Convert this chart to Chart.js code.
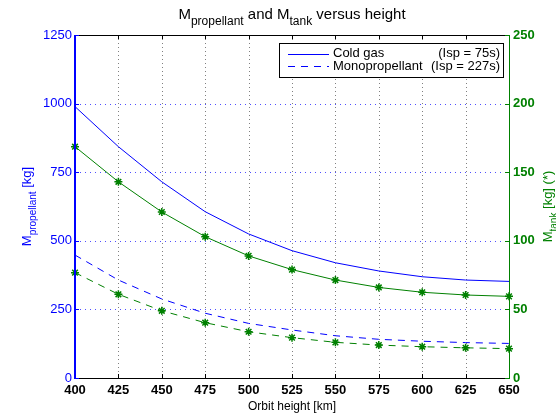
<!DOCTYPE html>
<html>
<head>
<meta charset="utf-8">
<script src="https://cdn.jsdelivr.net/npm/chart.js@4/dist/chart.umd.min.js"></script>
<style>
  html, body { margin: 0; padding: 0; background: #fff; }
  #wrap { width: 556px; height: 417px; }
</style>
</head>
<body>
<div id="wrap"><canvas id="massChart" width="556" height="417"></canvas></div>
<script>
// orbit heights [km]
var heights = ['400', '425', '450', '475', '500', '525', '550', '575', '600', '625', '650'];
// propellant mass [kg], left axis
var coldGasProp = [989, 843, 715, 606, 525, 464, 420, 390, 369, 357, 352];
var monoProp = [448, 357, 288, 236, 199, 175, 154, 141, 134, 129, 126];
// tank mass [kg], right axis
var coldGasTank = [168.6, 143, 121, 103, 89, 79, 71.4, 66, 62.5, 60.5, 59.5];
var monoTank = [76.8, 61, 49, 40.3, 33.7, 29.4, 26, 24, 22.8, 22, 21.4];

var legendNames = ['Cold gas', 'Monopropellant'];
var legendIsp = ['(Isp = 75s)', '(Isp = 227s)'];

var BLUE = '#0000ff';
var GREEN = '#008000';
var FONT = '"Liberation Sans", Arial, sans-serif';

// draw text with subscript pieces, returns width
function drawParts(ctx, parts, x, y, size, measureOnly) {
	var w = 0;
	for (var i = 0; i < parts.length; i++) {
		var p = parts[i];
		var fs = p.sub ? Math.round(size * 0.8) : size;
		ctx.font = fs + 'px ' + FONT;
		if (!measureOnly) ctx.fillText(p.t, x + w, p.sub ? y + size * 0.4 : y);
		w += ctx.measureText(p.t).width;
	}
	return w;
}

var decorPlugin = {
	id: 'decor',
	beforeDatasetsDraw: function(chart) {
		var ctx = chart.ctx, a = chart.chartArea;
		ctx.save();
		// horizontal dotted grid (left axis ticks)
		var yl = chart.scales.y;
		ctx.setLineDash([1, 4]);
		ctx.lineWidth = 1;
		ctx.strokeStyle = '#5050ff';
		yl.ticks.forEach(function(t) {
			if (t.value === 0 || t.value === 1250) return;
			var py = Math.round(yl.getPixelForValue(t.value)) + 0.5;
			ctx.beginPath(); ctx.moveTo(a.left, py); ctx.lineTo(a.right, py); ctx.stroke();
		});
		// vertical dotted grid
		var xs = chart.scales.x;
		ctx.strokeStyle = '#808080';
		ctx.setLineDash([1, 3]);
		for (var i = 1; i < heights.length - 1; i++) {
			var px = Math.round(xs.getPixelForValue(i)) + 0.5;
			ctx.beginPath(); ctx.moveTo(px, a.top); ctx.lineTo(px, a.bottom); ctx.stroke();
		}
		ctx.restore();
	},
	afterDatasetsDraw: function(chart) {
		var ctx = chart.ctx, a = chart.chartArea;
		var xs = chart.scales.x, yl = chart.scales.y, yr = chart.scales.y2;
		ctx.save();
		ctx.setLineDash([]);
		// top and bottom frame
		ctx.strokeStyle = '#000';
		ctx.lineWidth = 1;
		ctx.beginPath();
		ctx.moveTo(a.left, a.top + 0.5); ctx.lineTo(a.right, a.top + 0.5);
		ctx.moveTo(a.left, a.bottom + 0.5); ctx.lineTo(a.right, a.bottom + 0.5);
		for (var i = 1; i < heights.length - 1; i++) {
			var px = Math.round(xs.getPixelForValue(i)) + 0.5;
			ctx.moveTo(px, a.top); ctx.lineTo(px, a.top + 4);
			ctx.moveTo(px, a.bottom); ctx.lineTo(px, a.bottom - 4);
		}
		ctx.stroke();
		// left axis
		ctx.strokeStyle = BLUE;
		ctx.lineWidth = 2;
		ctx.beginPath(); ctx.moveTo(a.left, a.top); ctx.lineTo(a.left, a.bottom + 1); ctx.stroke();
		ctx.lineWidth = 1;
		ctx.beginPath();
		yl.ticks.forEach(function(t) {
			var py = Math.round(yl.getPixelForValue(t.value)) + 0.5;
			ctx.moveTo(a.left, py); ctx.lineTo(a.left + 4, py);
		});
		ctx.stroke();
		// right axis
		ctx.strokeStyle = GREEN;
		ctx.beginPath(); ctx.moveTo(a.right + 0.5, a.top); ctx.lineTo(a.right + 0.5, a.bottom + 1);
		yr.ticks.forEach(function(t) {
			var py = Math.round(yr.getPixelForValue(t.value)) + 0.5;
			ctx.moveTo(a.right, py); ctx.lineTo(a.right - 4, py);
		});
		ctx.stroke();

		// legend box
		var bx = 279, by = 43, bw = 224, bh = 34;
		ctx.fillStyle = '#fff';
		ctx.fillRect(bx, by, bw, bh);
		ctx.strokeStyle = '#000';
		ctx.strokeRect(bx + 0.5, by + 0.5, bw, bh);
		ctx.strokeStyle = BLUE;
		ctx.fillStyle = '#000';
		ctx.font = '13px ' + FONT;
		ctx.textBaseline = 'middle';
		for (var k = 0; k < 2; k++) {
			var ly = by + 10.5 + k * 12.5;
			ctx.setLineDash(k === 0 ? [] : [7, 6]);
			ctx.beginPath(); ctx.moveTo(288, Math.round(ly) + 0.5); ctx.lineTo(329, Math.round(ly) + 0.5); ctx.stroke();
			ctx.fillText(legendNames[k], 333, ly);
			ctx.textAlign = 'right';
			ctx.fillText(legendIsp[k], 500, ly);
			ctx.textAlign = 'left';
		}
		ctx.setLineDash([]);

		// title
		ctx.textBaseline = 'alphabetic';
		ctx.fillStyle = '#000';
		var titleParts = [{t: 'M'}, {t: 'propellant', sub: true}, {t: ' and M'}, {t: 'tank', sub: true}, {t: ' versus height'}];
		var tw = drawParts(ctx, titleParts, 0, 0, 15, true);
		drawParts(ctx, titleParts, (a.left + a.right) / 2 - tw / 2, 19, 15, false);

		// x axis title
		ctx.font = '12px ' + FONT;
		ctx.textAlign = 'center';
		ctx.fillText('Orbit height [km]', (a.left + a.right) / 2, 410);
		ctx.textAlign = 'left';

		// left axis title
		var cy = (a.top + a.bottom) / 2;
		ctx.save();
		ctx.translate(31, cy);
		ctx.rotate(-Math.PI / 2);
		ctx.fillStyle = BLUE;
		var lp = [{t: 'M'}, {t: 'propellant', sub: true}, {t: ' [kg]'}];
		var lw = drawParts(ctx, lp, 0, 0, 13, true);
		drawParts(ctx, lp, -lw / 2, 0, 13, false);
		ctx.restore();

		// right axis title
		ctx.save();
		ctx.translate(552, cy);
		ctx.rotate(-Math.PI / 2);
		ctx.fillStyle = GREEN;
		var rp = [{t: 'M'}, {t: 'tank', sub: true}, {t: ' [kg] (*)'}];
		var rw = drawParts(ctx, rp, 0, 0, 13, true);
		drawParts(ctx, rp, -rw / 2, 0, 13, false);
		ctx.restore();
		ctx.restore();
	}
};

new Chart(document.getElementById('massChart'), {
	type: 'line',
	data: {
		labels: heights,
		datasets: [{
			label: 'Cold gas',
			data: coldGasProp,
			yAxisID: 'y',
			borderColor: BLUE,
			borderWidth: 1,
			pointRadius: 0,
			fill: false
		}, {
			label: 'Monopropellant',
			data: monoProp,
			yAxisID: 'y',
			borderColor: BLUE,
			borderWidth: 1,
			borderDash: [7, 6],
			pointRadius: 0,
			fill: false
		}, {
			label: 'Cold gas tank',
			data: coldGasTank,
			yAxisID: 'y2',
			borderColor: GREEN,
			borderWidth: 1,
			pointStyle: 'star',
			pointRadius: 4,
			pointBorderColor: GREEN,
			pointBorderWidth: 1.5,
			fill: false
		}, {
			label: 'Monopropellant tank',
			data: monoTank,
			yAxisID: 'y2',
			borderColor: GREEN,
			borderWidth: 1,
			borderDash: [7, 6],
			pointStyle: 'star',
			pointRadius: 4,
			pointBorderColor: GREEN,
			pointBorderWidth: 1.5,
			fill: false
		}]
	},
	options: {
		responsive: false,
		animation: false,
		layout: { padding: { top: 35, left: 0, right: 0, bottom: 0 } },
		plugins: {
			legend: { display: false },
			title: { display: false },
			tooltip: { enabled: false }
		},
		scales: {
			x: {
				offset: false,
				grid: { display: false, drawTicks: false },
				border: { display: false },
				ticks: { color: '#000', padding: 5, font: { family: FONT, size: 13, weight: 'bold' }, maxRotation: 0 },
				afterFit: function(s) { s.height = 39; }
			},
			y: {
				position: 'left',
				min: 0, max: 1250,
				ticks: {
					stepSize: 250, color: BLUE, padding: 3, font: { family: FONT, size: 13 },
					callback: function(v) { return String(v); }
				},
				grid: { display: false, drawTicks: false },
				border: { display: false },
				afterFit: function(s) { s.width = 75; }
			},
			y2: {
				position: 'right',
				min: 0, max: 250,
				ticks: {
					stepSize: 50, color: GREEN, padding: 4, font: { family: FONT, size: 13, weight: 'bold' },
					callback: function(v) { return String(v); }
				},
				grid: { display: false, drawTicks: false },
				border: { display: false },
				afterFit: function(s) { s.width = 47; }
			}
		}
	},
	plugins: [decorPlugin]
});
</script>
</body>
</html>
